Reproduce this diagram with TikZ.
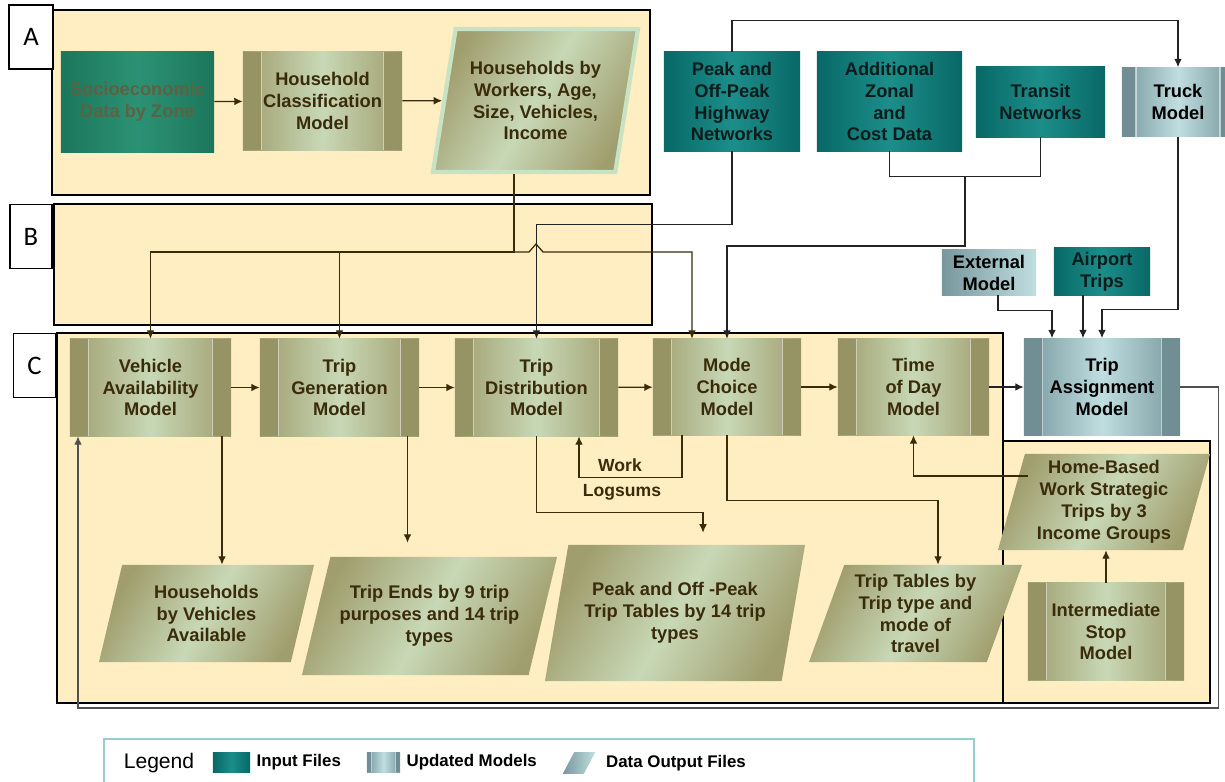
\documentclass[tikz,border=0pt]{standalone}
\usepackage{fontspec}
\setmainfont{Liberation Sans}
\newfontfamily\tagfont{Carlito}
\usetikzlibrary{arrows.meta,calc,positioning,shapes.geometric}
\definecolor{panelyel}{RGB}{254,238,194}
\definecolor{tealE}{RGB}{8,104,102}
\definecolor{tealM}{RGB}{28,142,138}
\definecolor{olvE}{RGB}{160,158,110}
\definecolor{olvM}{RGB}{200,216,182}
\definecolor{olvBar}{RGB}{150,148,100}
\definecolor{olvT}{RGB}{58,44,10}
\definecolor{bluE}{RGB}{120,152,158}
\definecolor{bluM}{RGB}{192,222,224}
\definecolor{bluBar}{RGB}{112,142,148}
\definecolor{zoneE}{RGB}{28,118,92}
\definecolor{zoneM}{RGB}{44,146,116}
\definecolor{linkC}{RGB}{35,35,35}
\tikzset{%
	panel/.style    = {draw=black, line width=1.3pt, fill=panelyel},
	tag/.style      = {draw=black, line width=1pt, fill=white, minimum width=1.1cm, minimum height=1.6cm, font=\tagfont\fontsize{19}{19}\selectfont},
	boxtext/.style  = {font=\fontsize{13}{15.6}\selectfont\bfseries, align=center, inner sep=0pt},
	bars/.style 2 args = {path picture={
		\fill[#1] (path picture bounding box.north west) rectangle ([xshift=#2]path picture bounding box.south west);
		\fill[#1] (path picture bounding box.north east) rectangle ([xshift=-#2]path picture bounding box.south east);
		\draw[white, opacity=0.55, line width=0.8pt] ([xshift=#2]path picture bounding box.north west) -- ([xshift=#2]path picture bounding box.south west);
		\draw[white, opacity=0.55, line width=0.8pt] ([xshift=-#2]path picture bounding box.north east) -- ([xshift=-#2]path picture bounding box.south east);}},
	zonedata/.style = {boxtext, rectangle, left color=zoneE, right color=zoneE, middle color=zoneM, text={rgb,255:red,92;green,98;blue,66}},
	infile/.style   = {boxtext, rectangle, left color=tealE, right color=tealE, middle color=tealM, text={rgb,255:red,12;green,28;blue,28}},
	model/.style    = {boxtext, rectangle, left color=olvE, right color=olvE, middle color=olvM, text=olvT, bars={olvBar}{0.47cm}},
	updated/.style  = {boxtext, rectangle, left color=bluE, right color=bluE, middle color=bluM, text=black},
	outfile/.style  = {boxtext, trapezium, trapezium stretches body, left color=olvE, right color=olvE, middle color=olvM, shading angle=60, text=olvT},
	flow/.style     = {-{Latex[length=6pt,width=5.5pt]}, draw=olvT, line width=0.9pt},
	link/.style     = {-{Latex[length=6pt,width=5.5pt]}, draw=linkC, line width=0.9pt},
	keytext/.style  = {font=\fontsize{12}{12}\selectfont\bfseries, inner sep=0pt},
}

\begin{document}
\begin{tikzpicture}[x=0.025cm,y=-0.025cm]
		\useasboundingbox (0,0) rectangle (1225,782);
		% panels A, B, C
		\draw[panel] (52,10) rectangle (650,195);
		\draw[panel] (54,204) rectangle (652,325);
		\draw[panel] (57,333) rectangle (1003,703);
		\draw[panel] (1003,441) rectangle (1210,703);
		\node[tag] (tagA) at (31,37) {A};
		\node[tag, minimum width=1.05cm] (tagB) at (31,236.5) {B};
		\node[tag, minimum width=1.05cm] (tagC) at (34.5,365.5) {C};
		
		% panel A
		\node[zonedata, minimum width=3.825cm, minimum height=2.5cm] (zone) at (137.5,102) {Socioeconomic\\Data by Zone};
		\node[model, minimum width=3.975cm, minimum height=2.45cm] (hhclass) at (322.5,101) {Household\\Classification\\Model};
		\node[outfile, trapezium left angle=74, trapezium right angle=106, minimum width=5.125cm, minimum height=3.575cm, draw={rgb,255:red,200;green,226;blue,196}, line width=3pt] (hhw) at (535.5,100.5) {Households by\\Workers, Age,\\Size, Vehicles,\\Income};
		
		% input files and outside models
		\node[infile, minimum width=3.4cm, minimum height=2.475cm] (peak) at (732,101.5) {Peak and\\Off-Peak\\Highway\\Networks};
		\node[infile, minimum width=3.625cm, minimum height=2.475cm] (addl) at (889.5,101.5) {Additional\\Zonal\\and\\Cost Data};
		\node[infile, minimum width=3.225cm, minimum height=1.75cm] (transit) at (1040.5,102) {Transit\\Networks};
		\node[updated, bars={bluBar}{0.35cm}, minimum width=2.8cm, minimum height=1.725cm] (truck) at (1178,102) {Truck\\Model};
		\node[updated, left color=bluE, right color=bluM, minimum width=2.35cm, minimum height=1.125cm] (external) at (989,272.5) {External\\Model};
		\node[infile, minimum width=2.4cm, minimum height=1.175cm] (airport) at (1102,271.5) {Airport\\Trips};
		\node[updated, bars={bluBar}{0.47cm}, minimum width=3.9cm, minimum height=2.425cm] (assign) at (1102,387) {Trip\\Assignment\\Model};
		
		% panel C models
		\node[model, minimum width=4.025cm, minimum height=2.425cm] (vehav) at (150.5,387.5) {Vehicle\\Availability\\Model};
		\node[model, minimum width=3.975cm, minimum height=2.425cm] (tripgen) at (339.5,387.5) {Trip\\Generation\\Model};
		\node[model, minimum width=4.075cm, minimum height=2.425cm] (tripdist) at (536.5,387.5) {Trip\\Distribution\\Model};
		\node[model, minimum width=3.7cm, minimum height=2.4cm] (mode) at (727,387) {Mode\\Choice\\Model};
		\node[model, minimum width=3.775cm, minimum height=2.4cm] (tod) at (913.5,387) {Time\\of Day\\Model};
		\node[model, minimum width=3.9cm, minimum height=2.425cm] (istop) at (1106,631.5) {Intermediate\\Stop\\Model};
		
		% panel C outputs
		\node[outfile, trapezium left angle=68, trapezium right angle=112, minimum width=5.375cm, minimum height=2.425cm] (hhveh) at (206.5,613.5) {Households\\by Vehicles\\Available};
		\node[outfile, trapezium left angle=65, trapezium right angle=115, minimum width=6.375cm, minimum height=2.95cm] (tripends) at (429.5,616) {Trip Ends by 9 trip\\purposes and 14 trip\\types};
		\node[outfile, trapezium left angle=69, trapezium right angle=111, minimum width=6.5cm, minimum height=3.4cm] (peaktab) at (675,613) {Peak and Off -Peak\\Trip Tables by 14 trip\\types};
		\node[outfile, trapezium left angle=66, trapezium right angle=114, minimum width=5.325cm, minimum height=2.425cm] (modetab) at (915.5,613.5) {Trip Tables by\\Trip type and\\mode of\\travel};
		\node[outfile, trapezium left angle=72, trapezium right angle=108, minimum width=5.3cm, minimum height=2.4cm] (hbw) at (1104,502) {Home-Based\\Work Strategic\\Trips by 3\\Income Groups};
		
		\node[boxtext, text=olvT, font=\fontsize{12.5}{12.5}\selectfont\bfseries] (work) at (620,465) {Work};
		\node[boxtext, text=olvT, font=\fontsize{12.5}{12.5}\selectfont\bfseries] (logsums) at (622,492) {Logsums};
		
		% connectors panel A
		\draw[flow] (zone) -- (hhclass);
		\draw[flow] (hhclass) -- (hhw);
		\coordinate (hhdrop) at (514,252);
		\draw[flow] (hhw.south -| hhdrop) -- (hhdrop) -| (vehav.north);
		\draw[flow] (tripgen.north |- hhdrop) -- (tripgen.north);
		\draw[flow] (hhdrop) -- (529,252) -- (536,244) -- (543,252) -| ($(mode.north)+(-35,0)$);
		
		% connectors from input files
		\draw[link] (peak.south) -- ++(0,73) -| (tripdist.north);
		\draw[link] (peak.north) -- ++(0,-31) -| (truck.north);
		\draw[link,-] (addl.south) -- ++(0,25) -| (transit.south);
		\coordinate (zjoin) at (965,176);
		\draw[link] (zjoin) -- (965,246) -| (mode.north);
		\draw[link] (truck.south) -- ++(0,173) -| (assign.north);
		\draw[link] ($(external.south)+(9,0)$) -- ++(0,15) -| ($(assign.north)+(-50,0)$);
		\draw[link] ($(airport.south)+(-19,0)$) -- ($(assign.north)+(-19,0)$);
		
		% chain of models
		\foreach \a/\b in {vehav/tripgen,tripgen/tripdist,tripdist/mode,mode/tod} \draw[flow] (\a) -- (\b);
		\draw[link] (tod) -- (assign);
		\draw[-{Latex[length=6pt,width=5.5pt]}, draw={rgb,255:red,80;green,80;blue,80}, line width=0.9pt] (assign.east) -- ++(38,0) -- ++(0,321) -| ($(vehav.south)+(-72.5,0)$);
		
		% outputs
		\coordinate (vaout) at ($(vehav.south)+(71.5,0)$);
		\draw[flow] (vaout) -- (vaout |- hhveh.north);
		\coordinate (tgout) at ($(tripgen.south)+(68,0)$);
		\draw[flow, shorten >=0.35cm] (tgout) -- (tgout |- tripends.north);
		\draw[flow, shorten >=0.3cm] (tripdist.south) -- ++(0,76) -| ($(peaktab.north)+(28,0)$);
		\draw[flow] ($(mode.south)+(-45,0)$) -- ++(0,42) -| ($(tripdist.south)+(42.5,0)$);
		\draw[flow] (mode.south) -- ++(0,65) -| ($(modetab.north)+(22.5,0)$);
		\coordinate (hbwout) at (1028,476);
		\draw[flow] (hbwout) -| (tod.south);
		\draw[flow] (istop.north) -- (istop.north |- hbw.south);
		
		% legend
		\draw[draw={rgb,255:red,150;green,205;blue,205}, line width=1pt] (104,800) |- (974,739) -- (974,800);
		\node[font=\fontsize{15}{15}\selectfont, inner sep=0pt] (legend) at (159,763) {Legend};
		\node[infile, minimum width=0.925cm, minimum height=0.5cm] (keyin) at (231.5,762) {};
		\node[keytext, right=0.15cm of keyin] (keyintxt) {Input Files};
		\node[updated, bars={bluBar}{0.12cm}, minimum width=0.825cm, minimum height=0.5cm] (keyupd) at (383.5,762) {};
		\node[keytext, right=0.15cm of keyupd] (keyupdtxt) {Updated Models};
		\node[trapezium, trapezium left angle=62, trapezium right angle=118, inner xsep=0.12cm, inner ysep=0.27cm, left color=bluE, right color=bluM] (keyout) at (579,763) {};
		\node[keytext, right=0.4cm of keyout] (keyouttxt) {Data Output Files};
\end{tikzpicture}
\end{document}
